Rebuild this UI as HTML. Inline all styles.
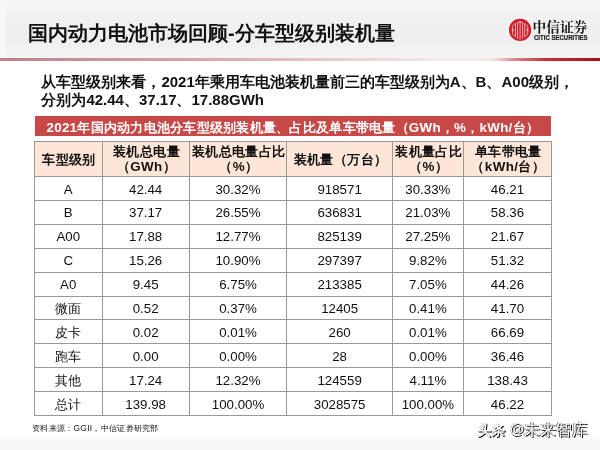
<!DOCTYPE html>
<html lang="zh">
<head>
<meta charset="utf-8">
<title>国内动力电池市场回顾-分车型级别装机量</title>
<style>
html,body{margin:0;padding:0;}
body{width:600px;height:450px;position:relative;overflow:hidden;background:#fff;will-change:transform;font-family:"Liberation Sans",sans-serif;color:#111;}
.abs{position:absolute;white-space:nowrap;}
#hdr{left:0;top:0;width:600px;height:58px;background:linear-gradient(90deg,#f8f8f9 0,#f8f8f9 4px,rgba(248,248,249,0) 6px),linear-gradient(180deg,#f8f8f9 0%,#f1f1f2 22%,#efeff0 70%,#f6f5f5 100%);}
#foot{left:0;top:434px;width:600px;height:16px;background:linear-gradient(180deg,#fff 0%,#f7f7f7 60%,#f6f6f6 100%);}
#rule{left:0;top:58px;width:600px;height:3px;background:linear-gradient(90deg,#c27f88 0%,#c9949a 17%,#dbb0b5 40%,#ecd3d6 60%,#f6eced 75%,#f4e4e5 82%,#dc8288 86%,#c63038 91%,#b00a12 100%);}
#title{left:28px;top:19px;width:366.7px;font-size:20px;line-height:28px;font-weight:bold;color:#111;}
.k{display:inline-block;white-space:nowrap;}
.j{text-align:justify;text-align-last:justify;text-justify:inter-character;}
#intro{left:41.4px;top:73px;font-size:15px;line-height:18px;font-weight:bold;color:#111;white-space:nowrap;}
#banner{left:34.5px;top:116.2px;width:516.4px;height:19.6px;background:#c74947;color:#fff;font-size:13.4px;letter-spacing:0.26px;line-height:19.5px;font-weight:bold;}
#banner span{position:absolute;left:12px;top:1.4px;width:492.6px;}
#l1,#l2{display:block;height:18px;}
#l1{width:532.6px;}
#l2{width:222.65px;}
table{position:absolute;left:34px;top:141.1px;border-collapse:collapse;table-layout:fixed;width:517.25px;}
td,th{border:1px solid #999;padding:0;text-align:center;vertical-align:middle;font-size:13px;color:#111;overflow:hidden;white-space:nowrap;}
th{background:#fde6d8;font-weight:bold;font-size:13.4px;line-height:15.6px;height:33px;padding:1px 0 0 1.6px;letter-spacing:0.4px;}
th.two{line-height:14.9px;height:32.4px;padding:1.6px 0 0 1.6px;}
td{height:20.9px;padding-top:2px;line-height:20px;font-weight:normal;font-size:13.3px;}
#src{left:32px;top:422.3px;width:126.8px;font-size:8.4px;letter-spacing:0.3px;line-height:12px;color:#151515;}
#wm{left:477.8px;top:419.5px;font-size:15.5px;line-height:20px;color:#fff;text-shadow:0.8px 0.8px 0.2px #111,-0.4px -0.4px 0 #666;}
#wm b{font-weight:normal;font-size:14.5px;margin:0 -0.8px 0 4px;position:relative;top:-0.5px;}
#wm i{font-size:14px;font-style:normal;display:inline-block;transform:skewX(-6deg);font-weight:bold;margin-right:0;}
#logo{left:505px;top:14px;}
</style>
</head>
<body>
<div id="hdr" class="abs"></div>
<div id="rule" class="abs"></div>
<div id="foot" class="abs"></div>
<div id="title" class="abs j">国内动力电池市场回顾-分车型级别装机量</div>
<svg id="logo" class="abs" width="90" height="32" viewBox="0 0 90 32" role="img" aria-label="中信证券 CITIC SECURITIES">
<title>中信证券</title>
  <circle cx="15.1" cy="15.95" r="11.1" fill="#cf1d28"/>
  <g stroke="#fff" stroke-width="0.7" fill="none" stroke-linecap="butt" transform="translate(15.1 15.95)" opacity="0.9">
    <path d="M-5.4 -6.2 A2.9 6.4 0 0 0 -5.4 6.4"/>
    <path d="M5.4 -6.2 A2.9 6.4 0 0 1 5.4 6.4"/>
    <path d="M-4.6 -6.9 V7.1 M4.6 -6.9 V7.1 M-2.5 -8 V8.8 M2.5 -8 V8.8 M0 -9 V9.7 M-2.5 -7.7 H2.5"/>
    <path d="M-8 0.2 H-6.2 M6.2 0.2 H8" stroke-width="1.1"/>
  </g>
  <text x="27.6" y="17.9" font-family="Liberation Serif, Noto Serif CJK SC, serif" font-weight="bold" font-size="13.4" fill="#151515" textLength="54.6" lengthAdjust="spacingAndGlyphs">中信证券</text>
  <text x="29" y="25.7" font-family="Liberation Sans, sans-serif" font-weight="bold" font-size="6.3" fill="#1c1c1c" stroke="#1c1c1c" stroke-width="0.2" textLength="53.6" lengthAdjust="spacingAndGlyphs">CITIC SECURITIES</text>
</svg>
<div id="intro" class="abs"><span id="l1" class="j">从车型级别来看，2021年乘用车电池装机量前三的车型级别为A、B、A00级别，</span><span id="l2" class="j">分别为42.44、37.17、17.88GWh</span></div>
<div id="banner" class="abs"><span class="j">2021年国内动力电池分车型级别装机量、占比及单车带电量（GWh，%，kWh/台）</span></div>
<table>
<colgroup><col style="width:67.5px"><col style="width:87.25px"><col style="width:97.5px"><col style="width:105.75px"><col style="width:70.75px"><col style="width:88.5px"></colgroup>
<tr><th><span class="j k" style="width:53.63px">车型级别</span></th><th class="two"><span class="j k" style="width:67.02px">装机总电量</span><br><span class="j k" style="width:59.25px">（GWh）</span></th><th class="two"><span class="j k" style="width:93.83px">装机总电量占比</span><br><span class="j k" style="width:39.13px">（%）</span></th><th><span class="j k" style="width:93.83px">装机量（万台）</span></th><th class="two"><span class="j k" style="width:67.02px">装机量占比</span><br><span class="j k" style="width:39.13px">（%）</span></th><th class="two"><span class="j k" style="width:67.02px">单车带电量</span><br><span class="j k" style="width:73.82px">（kWh/台）</span></th></tr>
<tr><td>A</td><td>42.44</td><td>30.32%</td><td>918571</td><td>30.33%</td><td>46.21</td></tr>
<tr><td>B</td><td>37.17</td><td>26.55%</td><td>636831</td><td>21.03%</td><td>58.36</td></tr>
<tr><td>A00</td><td>17.88</td><td>12.77%</td><td>825139</td><td>27.25%</td><td>21.67</td></tr>
<tr><td>C</td><td>15.26</td><td>10.90%</td><td>297397</td><td>9.82%</td><td>51.32</td></tr>
<tr><td>A0</td><td>9.45</td><td>6.75%</td><td>213385</td><td>7.05%</td><td>44.26</td></tr>
<tr><td><span class="j k" style="width:26.02px">微面</span></td><td>0.52</td><td>0.37%</td><td>12405</td><td>0.41%</td><td>41.70</td></tr>
<tr><td><span class="j k" style="width:26.02px">皮卡</span></td><td>0.02</td><td>0.01%</td><td>260</td><td>0.01%</td><td>66.69</td></tr>
<tr><td><span class="j k" style="width:26.02px">跑车</span></td><td>0.00</td><td>0.00%</td><td>28</td><td>0.00%</td><td>36.46</td></tr>
<tr><td><span class="j k" style="width:26.02px">其他</span></td><td>17.24</td><td>12.32%</td><td>124559</td><td>4.11%</td><td>138.43</td></tr>
<tr><td><span class="j k" style="width:26.02px">总计</span></td><td>139.98</td><td>100.00%</td><td>3028575</td><td>100.00%</td><td>46.22</td></tr>
</table>
<div id="src" class="abs j">资料来源：GGII，中信证券研究部</div>
<div id="wm" class="abs"><i class="j k" style="width:28.02px">头条</i><b>@</b><span class="j k" style="width:64.02px">未来智库</span></div>
</body>
</html>
